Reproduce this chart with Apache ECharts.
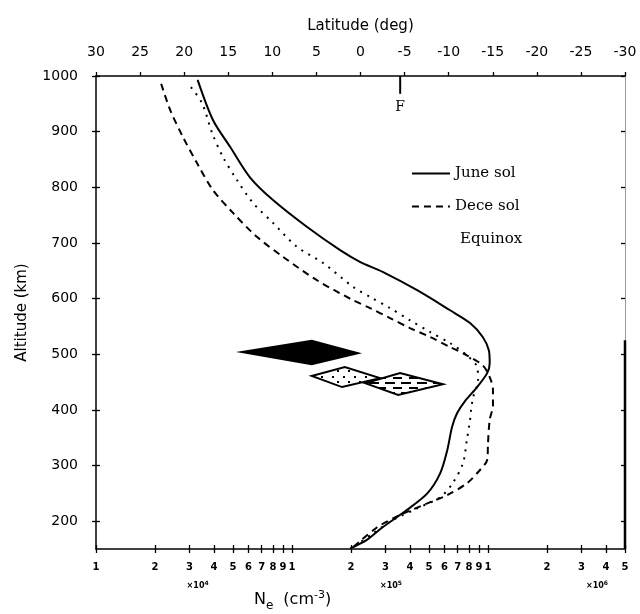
<!DOCTYPE html>
<html><head><meta charset="utf-8">
<script src="https://cdn.jsdelivr.net/npm/echarts@6/dist/echarts.min.js"></script>
<style>html,body{margin:0;padding:0;background:#fff}#c{width:640px;height:614px}</style>
</head><body><div id="c"></div>
<script>
// ---- data ----
const densityTicks = [1e4,2e4,3e4,4e4,5e4,6e4,7e4,8e4,9e4,1e5,2e5,3e5,4e5,5e5,6e5,7e5,8e5,9e5,1e6,2e6,3e6,4e6,5e6];
const altitudeTicks = [200,300,400,500,600,700,800,900,1000];
const latitudeMin = -30, latitudeMax = 30, latitudeStep = 5;
const multiplierTicks = [3.3e4, 3.2e5, 3.6e6];
const multiplierExps = ['4','5','6'];

// [Ne (cm^-3), altitude (km)]
const juneSol = [[3.3e4,993],[3.95e4,921],[4.85e4,872],[6.1e4,818],[8.0e4,777],[1.19e5,729],[1.76e5,687],[2.22e5,666],[2.9e5,648],[4.35e5,615],[6.4e5,579],[8.1e5,556],[9.4e5,531],[1.01e6,507],[1.02e6,484],[9.9e5,466],[8.8e5,441],[7.6e5,415],[6.95e5,394],[6.55e5,369],[6.2e5,328],[5.7e5,286],[4.9e5,250],[3.85e5,220],[2.9e5,189],[2.4e5,166],[1.98e5,151]];
const deceSol = [[2.15e4,986],[2.39e4,939],[2.78e4,890],[3.27e4,844],[3.95e4,795],[5.0e4,754],[6.62e4,711],[9.0e4,675],[1.34e5,633],[2.0e5,599],[2.5e5,583],[3.16e5,565],[4.0e5,547],[5.06e5,531],[6.4e5,513],[7.8e5,498],[9.4e5,480],[1.02e6,459],[1.06e6,436],[1.06e6,408],[1.02e6,382],[1.0e6,340],[9.9e5,310],[9.1e5,292],[7.8e5,268],[6.2e5,247],[4.9e5,232],[3.56e5,211],[2.72e5,189],[2.05e5,153]];
const equinox = [[3.05e4,980],[3.48e4,951],[3.91e4,898],[4.45e4,854],[5.24e4,813],[6.32e4,772],[8.0e4,736],[1.06e5,693],[1.44e5,664],[2.05e5,621],[2.5e5,603],[3.16e5,583],[4.0e5,561],[5.06e5,540],[6.4e5,520],[7.8e5,498],[8.8e5,477],[8.9e5,453],[8.4e5,423],[8.2e5,400],[8.1e5,382],[7.8e5,346],[7.45e5,304],[6.6e5,268],[5.7e5,243],[4.35e5,223],[3.27e5,202],[2.59e5,178],[2.05e5,153]];

// diamonds: left, top, right, bottom vertices [Ne, alt]
const diamondSolid = [[5.56e4,504],[1.26e5,524],[2.17e5,502],[1.26e5,482]];
const diamondDotted = [[1.26e5,461],[1.86e5,477],[2.81e5,457],[1.80e5,441]];
const diamondDashed = [[2.36e5,448],[3.56e5,466],[5.89e5,446],[3.48e5,427]];

const fLatitude = -4.5;
const fMarkAlt = [1000, 968];
const rightFrameAlt = [150, 525];
const densityMax = 5e6;

// ---- patterns ----
function dotPattern(){
  const c = document.createElement('canvas'); c.width = 11; c.height = 11;
  const g = c.getContext('2d'); g.fillStyle = '#fff'; g.fillRect(0,0,11,11);
  g.fillStyle = '#000'; g.fillRect(2,2,2,2); g.fillRect(7,7,2,2);
  return c;
}
function dashPattern(){
  const c = document.createElement('canvas'); c.width = 16; c.height = 10;
  const g = c.getContext('2d'); g.fillStyle = '#fff'; g.fillRect(0,0,16,10);
  g.fillStyle = '#000'; g.fillRect(1,2,10,2); g.fillRect(9,7,7,2); g.fillRect(0,7,2,2);
  return c;
}
const fills = {
  solid: '#000',
  dotted: {image: dotPattern(), repeat: 'repeat'},
  dashed: {image: dashPattern(), repeat: 'repeat'}
};

function diamondSeries(verts, fill){
  return {
    type: 'custom', xAxisIndex: 0, yAxisIndex: 0, silent: true, z: 3,
    data: [verts.flat()],
    renderItem: function(params, api){
      const pts = [0,1,2,3].map(i => api.coord([api.value(i*2), api.value(i*2+1)]));
      return {type: 'polygon', shape: {points: pts}, style: {fill: fill, stroke: '#000', lineWidth: 2}};
    }
  };
}

const sansFont = 'DejaVu Sans';
const serifFont = 'DejaVu Serif';

function mantissa(v){
  const e = Math.floor(Math.log10(v) + 1e-9);
  return String(Math.round(v / Math.pow(10, e)));
}

const chart = echarts.init(document.getElementById('c'));
chart.setOption({
  animation: false,
  backgroundColor: '#fff',
  grid: {left: 96, right: 15, top: 76, bottom: 65, containLabel: false, outerBoundsMode: 'none'},
  xAxis: [
    {
      type: 'log', logBase: 10, min: 1e4, max: densityMax, position: 'bottom',
      axisLine: {show: true, onZero: false, lineStyle: {color: '#000', width: 1.5}},
      axisTick: {show: true, customValues: densityTicks, length: 4, lineStyle: {color: '#000', width: 1.3}},
      minorTick: {show: false},
      splitLine: {show: false},
      axisLabel: {customValues: densityTicks, formatter: mantissa, margin: 13,
        fontFamily: sansFont, fontSize: 10, fontWeight: 'bold', color: '#000'}
    },
    {
      type: 'log', logBase: 10, min: 1e4, max: densityMax, position: 'bottom',
      axisLine: {show: false, onZero: false},
      axisTick: {show: true, inside: true, customValues: densityTicks, length: 4, lineStyle: {color: '#000', width: 1.3}},
      splitLine: {show: false},
      axisLabel: {customValues: multiplierTicks, margin: 31,
        formatter: function(v){
          const i = multiplierTicks.findIndex(t => Math.abs(t - v) / t < 1e-3);
          return '×10{s|' + (i >= 0 ? multiplierExps[i] : '') + '}';
        },
        fontFamily: sansFont, fontSize: 8, fontWeight: 'bold', color: '#000',
        rich: {s: {fontSize: 6, fontWeight: 'bold', verticalAlign: 'top', padding: [0,0,5,0]}}}
    },
    {
      type: 'value', min: latitudeMin, max: latitudeMax, interval: latitudeStep, inverse: true, position: 'top',
      name: 'Latitude (deg)', nameLocation: 'middle', nameGap: 42,
      nameTextStyle: {fontFamily: sansFont, fontSize: 15, color: '#000'},
      axisLine: {show: true, onZero: false, lineStyle: {color: '#000', width: 1.5}},
      axisTick: {show: true, length: 4, lineStyle: {color: '#000', width: 1.3}},
      splitLine: {show: false},
      axisLabel: {margin: 17, fontFamily: sansFont, fontSize: 14, color: '#000'}
    }
  ],
  yAxis: [
    {
      type: 'value', min: 150, max: 1000, position: 'left',
      name: 'Altitude (km)', nameLocation: 'middle', nameGap: 66,
      nameTextStyle: {fontFamily: sansFont, fontSize: 15, color: '#000'},
      axisLine: {show: true, onZero: false, lineStyle: {color: '#000', width: 1.5}},
      axisTick: {show: true, customValues: altitudeTicks, length: 4, lineStyle: {color: '#000', width: 1.3}},
      splitLine: {show: false},
      axisLabel: {customValues: altitudeTicks, formatter: v => String(v), margin: 18, fontFamily: sansFont, fontSize: 14, color: '#000'}
    },
    {
      type: 'value', min: 150, max: 1000, position: 'right',
      axisLine: {show: true, onZero: false, lineStyle: {color: '#999', width: 1}},
      axisTick: {show: true, inside: true, customValues: altitudeTicks, length: 4, lineStyle: {color: '#000', width: 1.3}},
      splitLine: {show: false},
      axisLabel: {show: false}
    },
    {
      type: 'value', min: 150, max: 1000, position: 'left',
      axisLine: {show: false, onZero: false},
      axisTick: {show: true, inside: true, customValues: altitudeTicks, length: 4, lineStyle: {color: '#000', width: 1.3}},
      splitLine: {show: false},
      axisLabel: {show: false}
    }
  ],
  legend: {
    orient: 'vertical', left: 411, top: 166, padding: 0, itemWidth: 38, itemHeight: 14, itemGap: 18,
    textStyle: {fontFamily: serifFont, fontSize: 15, color: '#000'},
    itemStyle: {opacity: 0},
    data: ['June sol', 'Dece sol', {name: 'Equinox', lineStyle: {opacity: 0}, itemStyle: {opacity: 0},
      textStyle: {padding: [0,0,0,5]}}]
  },
  series: [
    {name: 'June sol', type: 'line', xAxisIndex: 0, yAxisIndex: 0, data: juneSol, smooth: 0.3, symbol: 'none',
      lineStyle: {color: '#000', width: 2, type: 'solid'}, itemStyle: {color: '#000'}, z: 4},
    {name: 'Dece sol', type: 'line', xAxisIndex: 0, yAxisIndex: 0, data: deceSol, smooth: 0.3, symbol: 'none',
      lineStyle: {color: '#000', width: 2, type: [7,5]}, itemStyle: {color: '#000'}, z: 4},
    {name: 'Equinox', type: 'line', xAxisIndex: 0, yAxisIndex: 0, data: equinox, smooth: 0.3, symbol: 'none',
      lineStyle: {color: '#000', width: 2, type: [2,6]}, itemStyle: {color: '#000'}, z: 4},
    diamondSeries(diamondSolid, fills.solid),
    diamondSeries(diamondDotted, fills.dotted),
    diamondSeries(diamondDashed, fills.dashed),
    {type: 'line', xAxisIndex: 0, yAxisIndex: 0, silent: true, symbol: 'none',
      data: rightFrameAlt.map(a => [densityMax, a]),
      lineStyle: {color: '#000', width: 2.5}, z: 5},
    {type: 'line', xAxisIndex: 2, yAxisIndex: 0, silent: true, symbol: 'circle', symbolSize: 1, showSymbol: true,
      itemStyle: {color: 'rgba(0,0,0,0)'},
      data: [
        {value: [fLatitude, fMarkAlt[0]]},
        {value: [fLatitude, fMarkAlt[1]], label: {show: true, formatter: 'F', position: 'bottom', distance: 6,
          fontFamily: serifFont, fontSize: 14, color: '#000'}}
      ],
      lineStyle: {color: '#000', width: 2}, z: 5}
  ],
  graphic: [
    {type: 'text', left: 254, top: 588,
      style: {text: '{n|N}{e|e}   {n|(cm}{p|-3}{n|)}', fill: '#000',
        rich: {
          n: {fontFamily: sansFont, fontSize: 16, lineHeight: 22, verticalAlign: 'middle'},
          e: {fontFamily: sansFont, fontSize: 12, lineHeight: 22, padding: [12,0,0,0]},
          p: {fontFamily: sansFont, fontSize: 11, lineHeight: 22, padding: [0,0,10,0]}
        }}}
  ]
});
</script>
</body></html>
